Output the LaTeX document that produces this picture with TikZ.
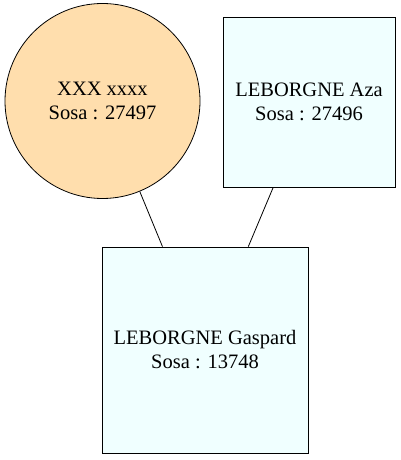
\documentclass[tikz,border=0pt]{standalone}
\usepackage{fontspec}
\setmainfont{Liberation Serif}
\definecolor{navajo}{HTML}{FFDEAD}
\definecolor{azur}{HTML}{F0FFFF}
\begin{document}
\begin{tikzpicture}[x=1bp, y=-1bp,
  every node/.style={font=\fontsize{20.5bp}{24bp}\selectfont, align=center, draw, line width=0.8bp},
  femme/.style={circle, fill=navajo, minimum size=195bp, inner sep=0pt},
  homme/.style={rectangle, fill=azur, inner sep=0pt}]
  \useasboundingbox (0,0) rectangle (400,460);
  \node[femme] (mere) at (102.5,101) {XXX xxxx\\Sosa : 27497};
  \node[homme, minimum width=172bp, minimum height=170bp] (pere) at (309,102) {LEBORGNE Aza\\Sosa : 27496};
  \node[homme, minimum width=206bp, minimum height=206bp] (enfant) at (205,350) {LEBORGNE Gaspard\\Sosa : 13748};
  \draw[line width=0.8bp] (mere) -- (enfant);
  \draw[line width=0.8bp] (pere) -- (enfant);
\end{tikzpicture}
\end{document}
